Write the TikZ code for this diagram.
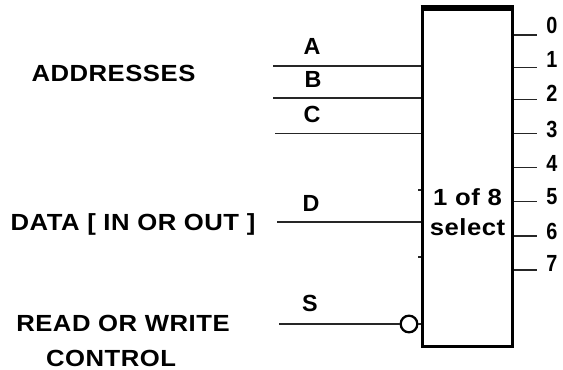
\documentclass[tikz,border=0pt]{standalone}
\usepackage{fontspec}
\setmainfont{Liberation Sans}[LetterSpace=2,BoldFont={Liberation Sans Bold}]
\usepackage{tikz}
\tikzset{
  every node/.style={font=\fontsize{17.5}{22}\selectfont\bfseries, inner sep=0pt},
  caption/.style={xscale=1.1},
  wire/.style={line width=1.2pt, black!85},
  box/.style={draw, line width=2.4pt, minimum width=68pt, minimum height=253pt, inner sep=0pt},
  bubble/.style={circle, draw, line width=1.7pt, minimum size=12.5pt, inner sep=0pt}
}
\begin{document}
\begin{tikzpicture}[x=0.75pt,y=-0.75pt]
\useasboundingbox (0,0) rectangle (563,370);
\node[box] (sel) at (467.5,178) {};
\draw[line width=4pt] (sel.north west) -- (sel.north east);
\node[caption,align=center] (title) at (467.5,212) {1 of 8\\select};
\node[caption] (addr) at (113.5,73) {ADDRESSES};
\node[caption] (data) at (133,224) {DATA [ IN OR OUT ]};
\node[caption] (rw) at (123,323) {READ OR WRITE};
\node[caption] (ctrl) at (111,358) {CONTROL};
\node[bubble] (neg) at (409,324) {};
% inputs
\foreach \n/\x/\y in {a/273/66,b/273/98,c/275/133.5,d/277/222,s/279/324}{
\coordinate (\n) at (\x,\y);
}
\foreach \n in {a,b,c,d}{
\draw[wire] (\n) -- (\n -| sel.west);
}
\draw[wire] (s) -- (neg.west);
\draw[wire] (neg.east) -- (s -| sel.west);
\node (la) at (312,46) {A};
\node (lb) at (313,79) {B};
\node (lc) at (312,114) {C};
\node (ld) at (311,203) {D};
\node (ls) at (310,303) {S};
% stubs on the left edge
\foreach \y in {190,257}{
\draw[wire] (sel.west |- 0,\y) -- +(-3,0);
}
% outputs
\foreach \i/\y/\t in {0/35/25,1/67.5/59,2/99.5/93,3/133.5/129,4/167.5/163,5/201.5/197,6/236/231,7/270/263}{
\coordinate (o\i) at (sel.east |- 0,\y);
\coordinate (e\i) at (537,\y);
\draw[wire] (o\i) -- (e\i);
\node[xscale=0.85] (d\i) at (552,\t) {\i};
}
\end{tikzpicture}
\end{document}
